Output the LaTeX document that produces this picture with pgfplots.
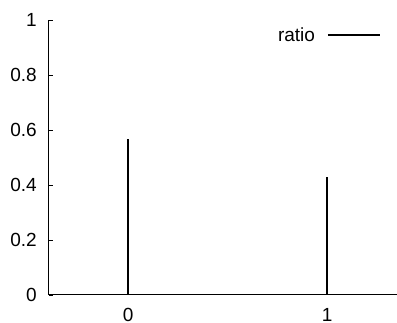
\documentclass[border=0pt]{standalone}
\usepackage{fontspec}
\setmainfont{Liberation Sans}
\usepackage{pgfplots}
\pgfplotsset{compat=1.18}
\begin{document}
\begin{tikzpicture}[x=1pt,y=1pt]
\useasboundingbox (0,0) rectangle (397,322);
\begin{axis}[
  at={(49pt,27pt)}, anchor=south west,
  scale only axis, width=348pt, height=275pt,
  xmin=-0.397, xmax=1.35, ymin=0, ymax=1,
  axis x line=bottom, axis y line=left,
  axis line style={-, line width=1pt},
  xtick={0,1}, ytick={0,0.2,0.4,0.6,0.8,1},
  tick align=inside, major tick length=4pt,
  tick style={line width=0.8pt, black},
  /pgf/number format/assume math mode=true,
  ticklabel style={font=\fontsize{19}{21}\selectfont},
  yticklabel style={xshift=-12pt, inner sep=0pt, anchor=east},
  xticklabel style={inner sep=0pt, anchor=north, yshift=-13pt},
  clip=false,
  legend style={draw=none, fill=none, font=\fontsize{19}{21}\selectfont,
    at={(0.954,0.945)}, anchor=east, inner sep=0pt, column sep=12pt,
    nodes={inner sep=0pt}},
  legend plot pos=right,
  legend image code/.code={\draw[#1] (0pt,0pt) -- (52pt,0pt);},
]
\addplot[ycomb, black, line width=1.8pt, mark=none] coordinates {(0,0.567) (1,0.429)};
\addlegendentry{ratio}
\end{axis}
\end{tikzpicture}
\end{document}
